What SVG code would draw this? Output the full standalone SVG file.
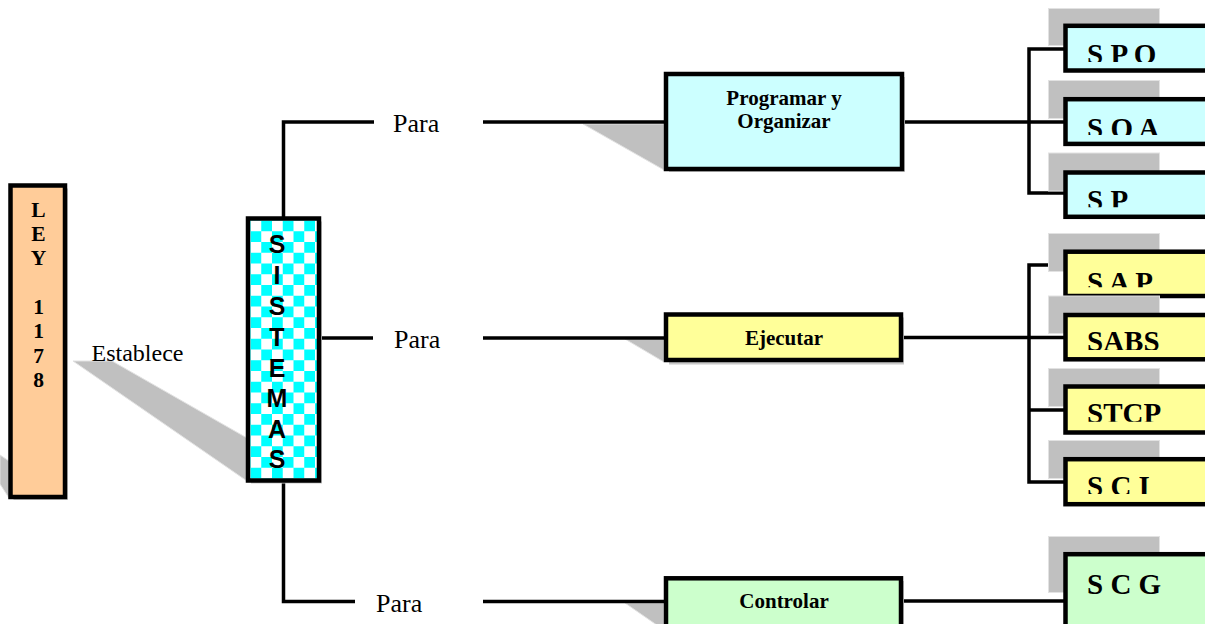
<svg xmlns="http://www.w3.org/2000/svg" width="1205" height="624" viewBox="0 0 1205 624">
<style>
.box{stroke:#000;stroke-width:4.5}
.sh{fill:#c0c0c0;stroke:#e2e2e2;stroke-width:1}
.bsh{fill:#c8c8c8}
.ln{fill:none;stroke:#000;stroke-width:3.5}
.para{font-family:"Liberation Serif","Times New Roman",serif;font-size:26px;fill:#000}
.mid{font-family:"Liberation Serif","Times New Roman",serif;font-size:21px;font-weight:bold;fill:#000;text-anchor:middle}
.sub{font-family:"Liberation Serif","Times New Roman",serif;font-size:29px;font-weight:bold;fill:#000}
.cy{fill:#ccffff}.ye{fill:#ffff99}.gr{fill:#ccffcc}
</style>
<defs>
<pattern id="chk" patternUnits="userSpaceOnUse" x="250.5" y="220.5" width="21.5" height="21.5">
<rect width="21.5" height="21.5" fill="#fff"/>
<rect x="10.75" width="10.75" height="10.75" fill="#00ffff"/>
<rect y="10.75" width="10.75" height="10.75" fill="#00ffff"/>
</pattern>
<clipPath id="c1"><rect x="1060" y="20" width="150" height="42"/></clipPath>
<clipPath id="c2"><rect x="1060" y="95" width="150" height="40"/></clipPath>
<clipPath id="c3"><rect x="1060" y="168" width="150" height="39.3"/></clipPath>
<clipPath id="c4"><rect x="1060" y="248" width="150" height="39.3"/></clipPath>
<clipPath id="c5"><rect x="1060" y="311" width="150" height="39"/></clipPath>
<clipPath id="c6"><rect x="1060" y="382" width="150" height="39.7"/></clipPath>
<clipPath id="c7"><rect x="1060" y="455" width="150" height="39"/></clipPath>
</defs>
<rect width="1205" height="624" fill="#fff"/>

<g id="shadows">
<polygon class="sh" points="0,455 9,461 9,498 0,484"/>
<polygon class="sh" points="73,361 112,361 247,438 247,481"/>
<polygon class="sh" points="583,124 664,124 664,170"/>
<polygon class="sh" points="625,339 664,339 664,362"/>
<polygon class="sh" points="625,603 664,603 664,630"/>
</g>

<g id="connectors">
<polyline class="ln" points="374,122 283.5,122 283.5,218"/>
<polyline class="ln" points="283.5,481 283.5,601.5 355,601.5"/>
<line class="ln" x1="321" y1="338" x2="373" y2="338"/>
<line class="ln" x1="483" y1="122" x2="666" y2="122"/>
<line class="ln" x1="483" y1="338" x2="666" y2="338"/>
<line class="ln" x1="483" y1="601.5" x2="666" y2="601.5"/>
<line class="ln" x1="902" y1="122" x2="1065" y2="122"/>
<line class="ln" x1="902" y1="337.5" x2="1065" y2="337.5"/>
<line class="ln" x1="902" y1="601" x2="1065" y2="601"/>
<polyline class="ln" points="1065,49 1029,49 1029,193 1065,193"/>
<polyline class="ln" points="1065,265 1029,265 1029,482 1065,482"/>
<line class="ln" x1="1029" y1="410" x2="1065" y2="410"/>
</g>

<g id="ley">
<rect class="bsh" x="13.5" y="188.5" width="54.5" height="311.5"/>
<rect class="box" x="10.5" y="185.5" width="54.5" height="311.5" fill="#ffcc99" stroke-width="4"/>
<g font-family="'Liberation Serif','Times New Roman',serif" font-size="21.5" font-weight="bold" text-anchor="middle">
<text x="38.5" y="216.7">L</text>
<text x="38.5" y="241">E</text>
<text x="38.5" y="265.3">Y</text>
<text x="38.5" y="314">1</text>
<text x="38.5" y="338.3">1</text>
<text x="38.5" y="362.6">7</text>
<text x="38.5" y="387">8</text>
</g>
</g>

<g id="establece"><text class="para" x="91.5" y="360.7" style="font-size:24px">Establece</text></g>

<g id="sistemas">
<rect class="bsh" x="251" y="221.5" width="71" height="262"/>
<rect class="box" x="248" y="218.5" width="71" height="262" fill="url(#chk)" stroke-width="5"/>
<g font-family="'Liberation Sans',Arial,sans-serif" font-size="25" font-weight="bold" text-anchor="middle">
<text x="277" y="253.3">S</text>
<text x="277" y="284">I</text>
<text x="277" y="315">S</text>
<text x="277" y="346.3">T</text>
<text x="277" y="376.7">E</text>
<text x="277" y="407">M</text>
<text x="277" y="437.5">A</text>
<text x="277" y="468.3">S</text>
</g>
</g>

<g id="para1"><text class="para" x="393" y="131.7">Para</text></g>
<g id="para2"><text class="para" x="394" y="347.5">Para</text></g>
<g id="para3"><text class="para" x="376" y="612.3">Para</text></g>

<g id="programar">
<rect class="bsh" x="669" y="77" width="236" height="95"/>
<rect class="box cy" x="666" y="74" width="236" height="95"/>
<text class="mid" x="784" y="105">Programar y</text>
<text class="mid" x="784" y="128">Organizar</text>
</g>

<g id="ejecutar">
<rect class="bsh" x="669" y="317.5" width="235" height="47"/>
<rect class="box ye" x="666" y="314.5" width="235" height="45.5"/>
<text class="mid" x="784" y="345">Ejecutar</text>
</g>

<g id="controlar">
<rect class="bsh" x="669" y="581" width="235" height="60"/>
<rect class="box gr" x="666" y="578.3" width="235" height="60"/>
<text class="mid" x="784" y="608.3">Controlar</text>
</g>

<g id="spo">
<rect class="sh" x="1048.5" y="8.5" width="111" height="37"/>
<rect class="box cy" x="1065.5" y="25.8" width="200" height="44.7" stroke-width="5"/>
<text class="sub" x="1087" y="64.2" clip-path="url(#c1)">S P O</text>
</g>
<g id="soa">
<rect class="sh" x="1048.5" y="80.5" width="111" height="38"/>
<rect class="box cy" x="1065.5" y="99.2" width="200" height="44.7" stroke-width="5"/>
<text class="sub" x="1087" y="137.5" clip-path="url(#c2)">S O A</text>
</g>
<g id="sp">
<rect class="sh" x="1048.5" y="153" width="111" height="38"/>
<rect class="box cy" x="1065.5" y="172.5" width="200" height="44.3" stroke-width="5"/>
<text class="sub" x="1087" y="210" clip-path="url(#c3)">S P</text>
</g>
<g id="sap">
<rect class="sh" x="1048.5" y="233.5" width="111" height="38"/>
<rect class="box ye" x="1065.5" y="251.7" width="200" height="44.3" stroke-width="5"/>
<text class="sub" x="1087" y="291.5" clip-path="url(#c4)">S A P</text>
</g>
<g id="sabs">
<rect class="sh" x="1048.5" y="296" width="111" height="37.5"/>
<rect class="box ye" x="1065.5" y="315" width="200" height="44.3" stroke-width="5"/>
<text class="sub" x="1087" y="351" clip-path="url(#c5)">SABS</text>
</g>
<g id="stcp">
<rect class="sh" x="1048.5" y="368.5" width="111" height="38"/>
<rect class="box ye" x="1065.5" y="386.5" width="200" height="46" stroke-width="5"/>
<text class="sub" x="1087" y="423" clip-path="url(#c6)">STCP</text>
</g>
<g id="sci">
<rect class="sh" x="1048.5" y="440.5" width="111" height="38"/>
<rect class="box ye" x="1065.5" y="459.2" width="200" height="45" stroke-width="5"/>
<text class="sub" x="1087" y="496" clip-path="url(#c7)">S C I</text>
</g>
<g id="scg">
<rect class="sh" x="1048.5" y="536.5" width="111" height="56"/>
<rect class="box gr" x="1065.5" y="554.2" width="200" height="80" stroke-width="5"/>
<text class="sub" x="1087" y="594">S C G</text>
</g>
</svg>
